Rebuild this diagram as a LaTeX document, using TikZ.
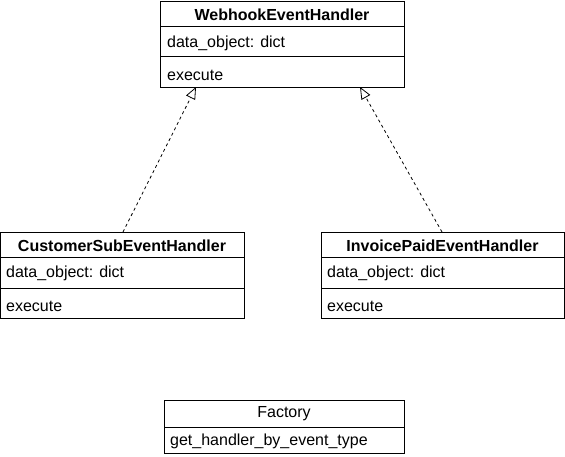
\documentclass[tikz,border=0pt]{standalone}
\usepackage{fontspec}
\setmainfont{Liberation Sans}
\usetikzlibrary{arrows.meta}
\begin{document}
\begin{tikzpicture}[x=1pt,y=-1pt,
  box/.style={draw, line width=1pt, anchor=north west, inner sep=0pt},
  hdr/.style={font=\fontsize{16}{18}\selectfont\bfseries, anchor=center},
  plainhdr/.style={font=\fontsize{16}{18}\selectfont, anchor=center},
  attr/.style={font=\fontsize{16}{18}\selectfont, anchor=west, inner sep=0pt},
  sep/.style={line width=1pt},
  inherit/.style={line width=0.8pt, dash pattern=on 3pt off 3pt, -{Triangle[open,length=12pt,width=10pt]}}
]
\useasboundingbox (0,0) rectangle (565,457);
\fill[white] (0,0) rectangle (565,457);

% WebhookEventHandler
\node[box, minimum width=244pt, minimum height=86pt] (web) at (160,1) {};
\draw[sep] (160,27) -- (404,27);
\draw[sep] (160,57) -- (404,57);
\node[hdr] (webT) at (282,15) {WebhookEventHandler};
\node[attr] (webA) at (167,43) {data\_object: dict};
\node[attr] (webM) at (167,75.5) {execute};

% CustomerSubEventHandler
\node[box, minimum width=244pt, minimum height=86pt] (cus) at (0,232) {};
\draw[sep] (0,258) -- (244,258);
\draw[sep] (0,288) -- (244,288);
\node[hdr] (cusT) at (122,246) {CustomerSubEventHandler};
\node[attr] (cusA) at (6,273) {data\_object: dict};
\node[attr] (cusM) at (6,306) {execute};

% InvoicePaidEventHandler
\node[box, minimum width=243pt, minimum height=86pt] (inv) at (321,232) {};
\draw[sep] (321,258) -- (564,258);
\draw[sep] (321,288) -- (564,288);
\node[hdr] (invT) at (442.5,246) {InvoicePaidEventHandler};
\node[attr] (invA) at (327,273) {data\_object: dict};
\node[attr] (invM) at (327,306) {execute};

% Factory
\node[box, minimum width=240pt, minimum height=53pt] (fac) at (164,400) {};
\draw[sep] (164,427) -- (404,427);
\node[plainhdr] (facT) at (284,414) {Factory};
\node[attr] (facM) at (170,441) {get\_handler\_by\_event\_type};

% inheritance arrows
\coordinate (cusTop) at (123,232);
\coordinate (webL) at (196,87);
\coordinate (invTop) at (442,232);
\coordinate (webR) at (360,87);
\draw[inherit] (cusTop) -- (webL);
\draw[inherit] (invTop) -- (webR);
\end{tikzpicture}
\end{document}
